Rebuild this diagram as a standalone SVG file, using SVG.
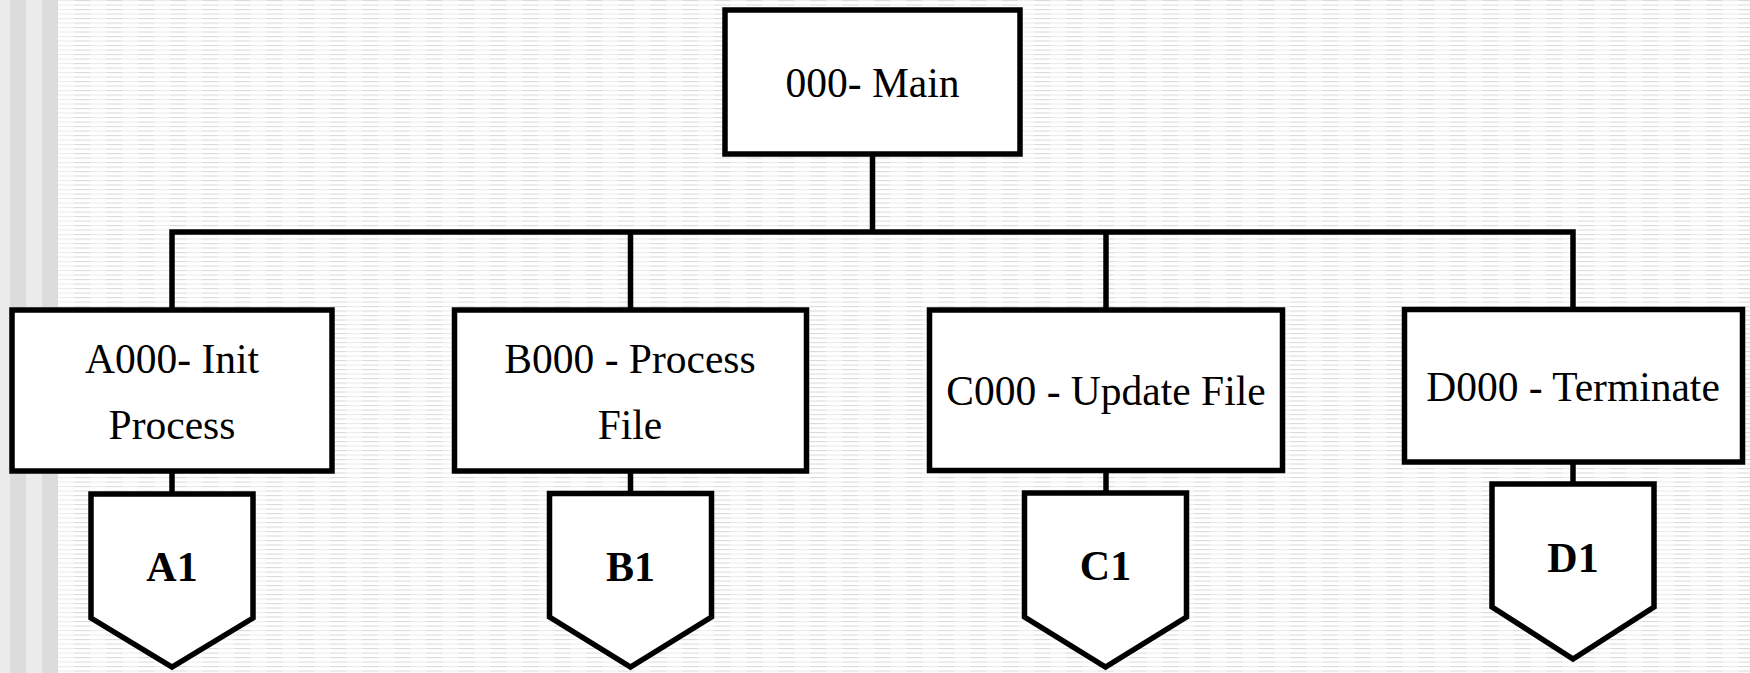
<svg xmlns="http://www.w3.org/2000/svg" width="1750" height="673" viewBox="0 0 1750 673">
<defs>
<pattern id="bgp" patternUnits="userSpaceOnUse" x="58" y="0" width="32" height="4.5">
<rect width="32" height="4.5" fill="#ffffff"/>
<rect y="0" width="32" height="1" fill="#ebebeb"/>
<rect x="16" y="0" width="16" height="1" fill="#d9d9d9"/>
</pattern>
</defs>
<style>
.box{fill:#ffffff;stroke:#000000;stroke-width:5.5;stroke-linejoin:miter}
.ln{fill:none;stroke:#000000;stroke-width:5.5;stroke-linejoin:miter}
.t{font-family:"Liberation Serif","Times New Roman",serif;font-size:41.5px;fill:#000000;text-anchor:middle}
.b{font-family:"Liberation Serif","Times New Roman",serif;font-size:42px;font-weight:bold;fill:#000000;text-anchor:middle}
</style>
<rect x="0" y="0" width="1750" height="673" fill="url(#bgp)"/>
<rect x="0" y="0" width="58" height="673" fill="#ebebeb"/>
<rect x="10" y="0" width="16" height="673" fill="#dcdcdc"/>
<rect x="42" y="0" width="16" height="673" fill="#dcdcdc"/>
<g id="connectors">
<path class="ln" d="M172,310 V232 H1573 V309.5"/>
<path class="ln" d="M872.5,154 V232"/>
<path class="ln" d="M630.5,232 V310"/>
<path class="ln" d="M1106,232 V310"/>
<path class="ln" d="M172,471 V494"/>
<path class="ln" d="M630.5,471 V493.5"/>
<path class="ln" d="M1106,470.5 V493"/>
<path class="ln" d="M1573,462 V484"/>
</g>
<g id="main">
<rect class="box" x="725" y="10" width="295" height="144"/>
<text class="t" x="872.5" y="97">000- Main</text>
</g>
<g id="a000">
<rect class="box" x="12" y="310" width="320" height="161"/>
<text class="t" x="172" y="373">A000- Init</text>
<text class="t" x="172" y="438.5">Process</text>
</g>
<g id="b000">
<rect class="box" x="454.5" y="310" width="352" height="161"/>
<text class="t" x="630" y="373">B000 - Process</text>
<text class="t" x="630" y="438.5">File</text>
</g>
<g id="c000">
<rect class="box" x="929.5" y="310" width="353" height="160.5"/>
<text class="t" x="1106" y="405">C000 - Update File</text>
</g>
<g id="d000">
<rect class="box" x="1404.5" y="309.5" width="338" height="152.5"/>
<text class="t" x="1573" y="401">D000 - Terminate</text>
</g>
<g id="a1">
<polygon class="box" points="91,494 253,494 253,618 172,667 91,618"/>
<text class="b" x="172" y="581">A1</text>
</g>
<g id="b1">
<polygon class="box" points="549.5,493.5 711.5,493.5 711.5,617 630.5,667 549.5,617"/>
<text class="b" x="630.5" y="581">B1</text>
</g>
<g id="c1">
<polygon class="box" points="1024.5,493 1186.5,493 1186.5,617 1105.5,667 1024.5,617"/>
<text class="b" x="1105.5" y="580">C1</text>
</g>
<g id="d1">
<polygon class="box" points="1492,484 1654,484 1654,607 1573,659 1492,607"/>
<text class="b" x="1573" y="572">D1</text>
</g>
</svg>
